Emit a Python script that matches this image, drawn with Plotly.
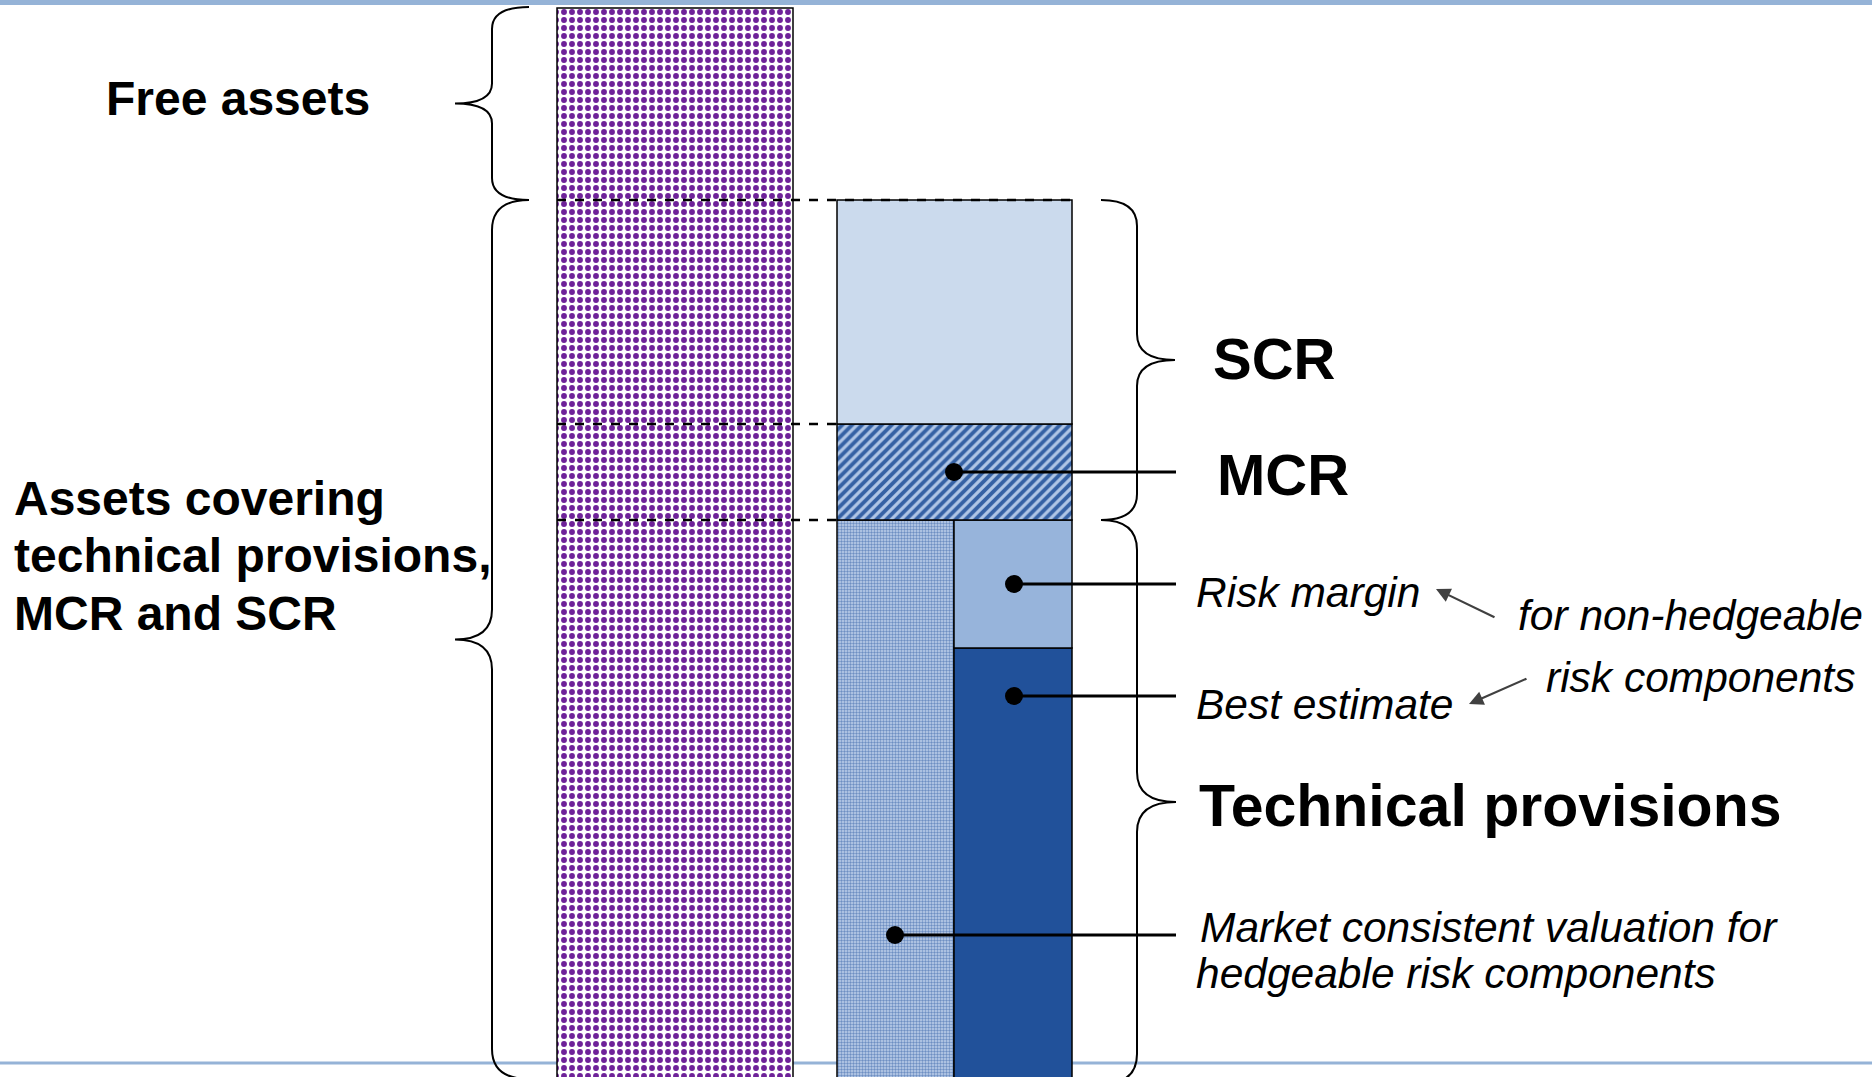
import plotly.graph_objects as go

# ---------------- data (diagram quantities, arbitrary units) ----------------
segment_names = ["Best estimate", "Risk margin", "Hedgeable components", "MCR", "SCR", "Free assets"]
best_estimate = 459
risk_margin = 128
hedgeable = 587
mcr = 96
scr = 224
free_assets = 192
base_level = -30

label_texts = {
    "free": "Free assets",
    "assets": ["Assets covering", "technical provisions,", "MCR and SCR"],
    "scr": "SCR",
    "mcr": "MCR",
    "tp": "Technical provisions",
    "rm": "Risk margin",
    "be": "Best estimate",
    "nh1": "for non-hedgeable",
    "nh2": "risk components",
    "mk1": "Market consistent valuation for",
    "mk2": "hedgeable risk components",
}

# ---------------- derived levels ----------------
be_top = base_level + best_estimate
tp_top = base_level + hedgeable
mcr_top = tp_top + mcr
scr_top = mcr_top + scr
fa_top = scr_top + free_assets

W, H = 1872, 1077
FONT = "Liberation Sans, Arial, sans-serif"

fig = go.Figure()

def add_bar(xc, w, base, val, color=None, pattern=None, name=""):
    marker = dict(line=dict(color="black", width=1.5))
    if color is not None:
        marker["color"] = color
    if pattern is not None:
        marker["pattern"] = pattern
    fig.add_trace(go.Bar(x=[xc], y=[val], base=[base], width=[w], marker=marker,
                         name=name, hoverinfo="skip", showlegend=False))

# assets column
add_bar(675, 236, base_level, hedgeable + mcr + scr + free_assets, color="white",
        pattern=dict(shape=".", fgcolor="#6E2299", bgcolor="white", fgopacity=1,
                     size=8, solidity=0.42),
        name="Assets")
# liabilities column
add_bar(895.5, 117, base_level, hedgeable, color="#B7CBE8",
        pattern=dict(shape=".", fgcolor="#2A58A0", bgcolor="#C0D2EB", fgopacity=0.55, size=3, solidity=0.5),
        name=segment_names[2])
add_bar(1013, 118, base_level, best_estimate, color="#21519A", name=segment_names[0])
add_bar(1013, 118, be_top, risk_margin, color="#97B4DB", name=segment_names[1])
add_bar(954.5, 235, tp_top, mcr, color="#B0C6E6",
        pattern=dict(shape="/", fgcolor="#1F4F99", bgcolor="#B0C6E6", fgopacity=0.85, size=7, solidity=0.55),
        name=segment_names[3])
add_bar(954.5, 235, mcr_top, scr, color="#CBDAED", name=segment_names[4])

# connectors with dots
def connector(x0, x1, y):
    fig.add_trace(go.Scatter(x=[x0, x1], y=[y, y], mode="lines", line=dict(color="black", width=3),
                             hoverinfo="skip", showlegend=False))
    fig.add_trace(go.Scatter(x=[x0], y=[y], mode="markers", marker=dict(color="black", size=18),
                             hoverinfo="skip", showlegend=False))

connector(954, 1176, (tp_top + mcr_top) / 2)
connector(1014, 1176, (be_top + tp_top) / 2)
connector(1014, 1176, 381)
connector(895, 1176, 142)

shapes = []
# top and bottom rules
shapes.append(dict(type="rect", xref="paper", yref="y", x0=0, x1=1, y0=H - 5, y1=H + 2,
                   fillcolor="#95B3D7", line=dict(width=0), layer="below"))
shapes.append(dict(type="line", xref="paper", yref="y", x0=0, x1=1, y0=14, y1=14,
                   line=dict(color="#95B3D7", width=3), layer="below"))
# dashed level lines
for lvl, xe in [(scr_top, 1072), (mcr_top, 837), (tp_top, 837)]:
    shapes.append(dict(type="line", xref="x", yref="y", x0=557, x1=xe, y0=lvl, y1=lvl,
                       line=dict(color="black", width=2.5, dash="dash"), layer="above"))

def brace(x_end, x_spine, x_tip, y_top, y_bot, r_end, r_tip):
    ym = (y_top + y_bot) / 2
    return (f"M {x_end},{y_top} Q {x_spine},{y_top} {x_spine},{y_top - r_end} "
            f"L {x_spine},{ym + r_tip} Q {x_spine},{ym} {x_tip},{ym} "
            f"Q {x_spine},{ym} {x_spine},{ym - r_tip} "
            f"L {x_spine},{y_bot + r_end} Q {x_spine},{y_bot} {x_end},{y_bot}")

for path in [brace(529, 492, 455, fa_top + 1, scr_top, 22, 20),
             brace(529, 492, 455, scr_top, -2, 30, 30),
             brace(1101, 1137, 1175, scr_top, tp_top, 26, 26),
             brace(1101, 1137, 1176, tp_top, -7, 30, 30)]:
    shapes.append(dict(type="path", xref="x", yref="y", path=path,
                       line=dict(color="black", width=2), layer="above"))

annotations = []
def label(text, x, y, size, bold=False, italic=False):
    t = text
    if bold:
        t = f"<b>{t}</b>"
    if italic:
        t = f"<i>{t}</i>"
    annotations.append(dict(x=x, y=y, xref="x", yref="y", text=t, showarrow=False,
                            xanchor="left", yanchor="middle",
                            font=dict(family=FONT, size=size, color="black")))

label(label_texts["free"], 104, 979, 48, bold=True)
for i, line in enumerate(label_texts["assets"]):
    label(line, 12, 579 - i * 57.5, 48, bold=True)
label(label_texts["scr"], 1211, 719, 58, bold=True)
label(label_texts["mcr"], 1215, 603, 58, bold=True)
label(label_texts["tp"], 1197, 271, 59, bold=True)
label(label_texts["rm"], 1194, 485, 42.5, italic=True)
label(label_texts["be"], 1194, 373, 42.5, italic=True)
label(label_texts["nh1"], 1516, 462, 42.5, italic=True)
label(label_texts["nh2"], 1544, 400, 42.5, italic=True)
label(label_texts["mk1"], 1198, 150, 42.5, italic=True)
label(label_texts["mk2"], 1194, 104, 42.5, italic=True)

# arrows
for (hx, hy, tx, ty) in [(1436, 488, 1496, 459), (1469, 373, 1528, 399)]:
    annotations.append(dict(x=hx, y=hy, ax=tx, ay=ty, xref="x", yref="y", axref="x", ayref="y",
                            text="", showarrow=True, arrowhead=2, arrowsize=1.3, arrowwidth=2.2,
                            arrowcolor="#404040"))

fig.update_layout(
    width=W, height=H,
    margin=dict(l=0, r=0, t=0, b=0),
    paper_bgcolor="white", plot_bgcolor="white",
    barmode="overlay",
    showlegend=False,
    xaxis=dict(range=[0, W], visible=False, fixedrange=True),
    yaxis=dict(range=[0, H], visible=False, fixedrange=True),
    shapes=shapes,
    annotations=annotations,
    font=dict(family=FONT),
)

fig.write_html("out.html", config={"displayModeBar": False},
               post_script="document.body.style.margin='0';document.body.style.overflow='hidden';")
